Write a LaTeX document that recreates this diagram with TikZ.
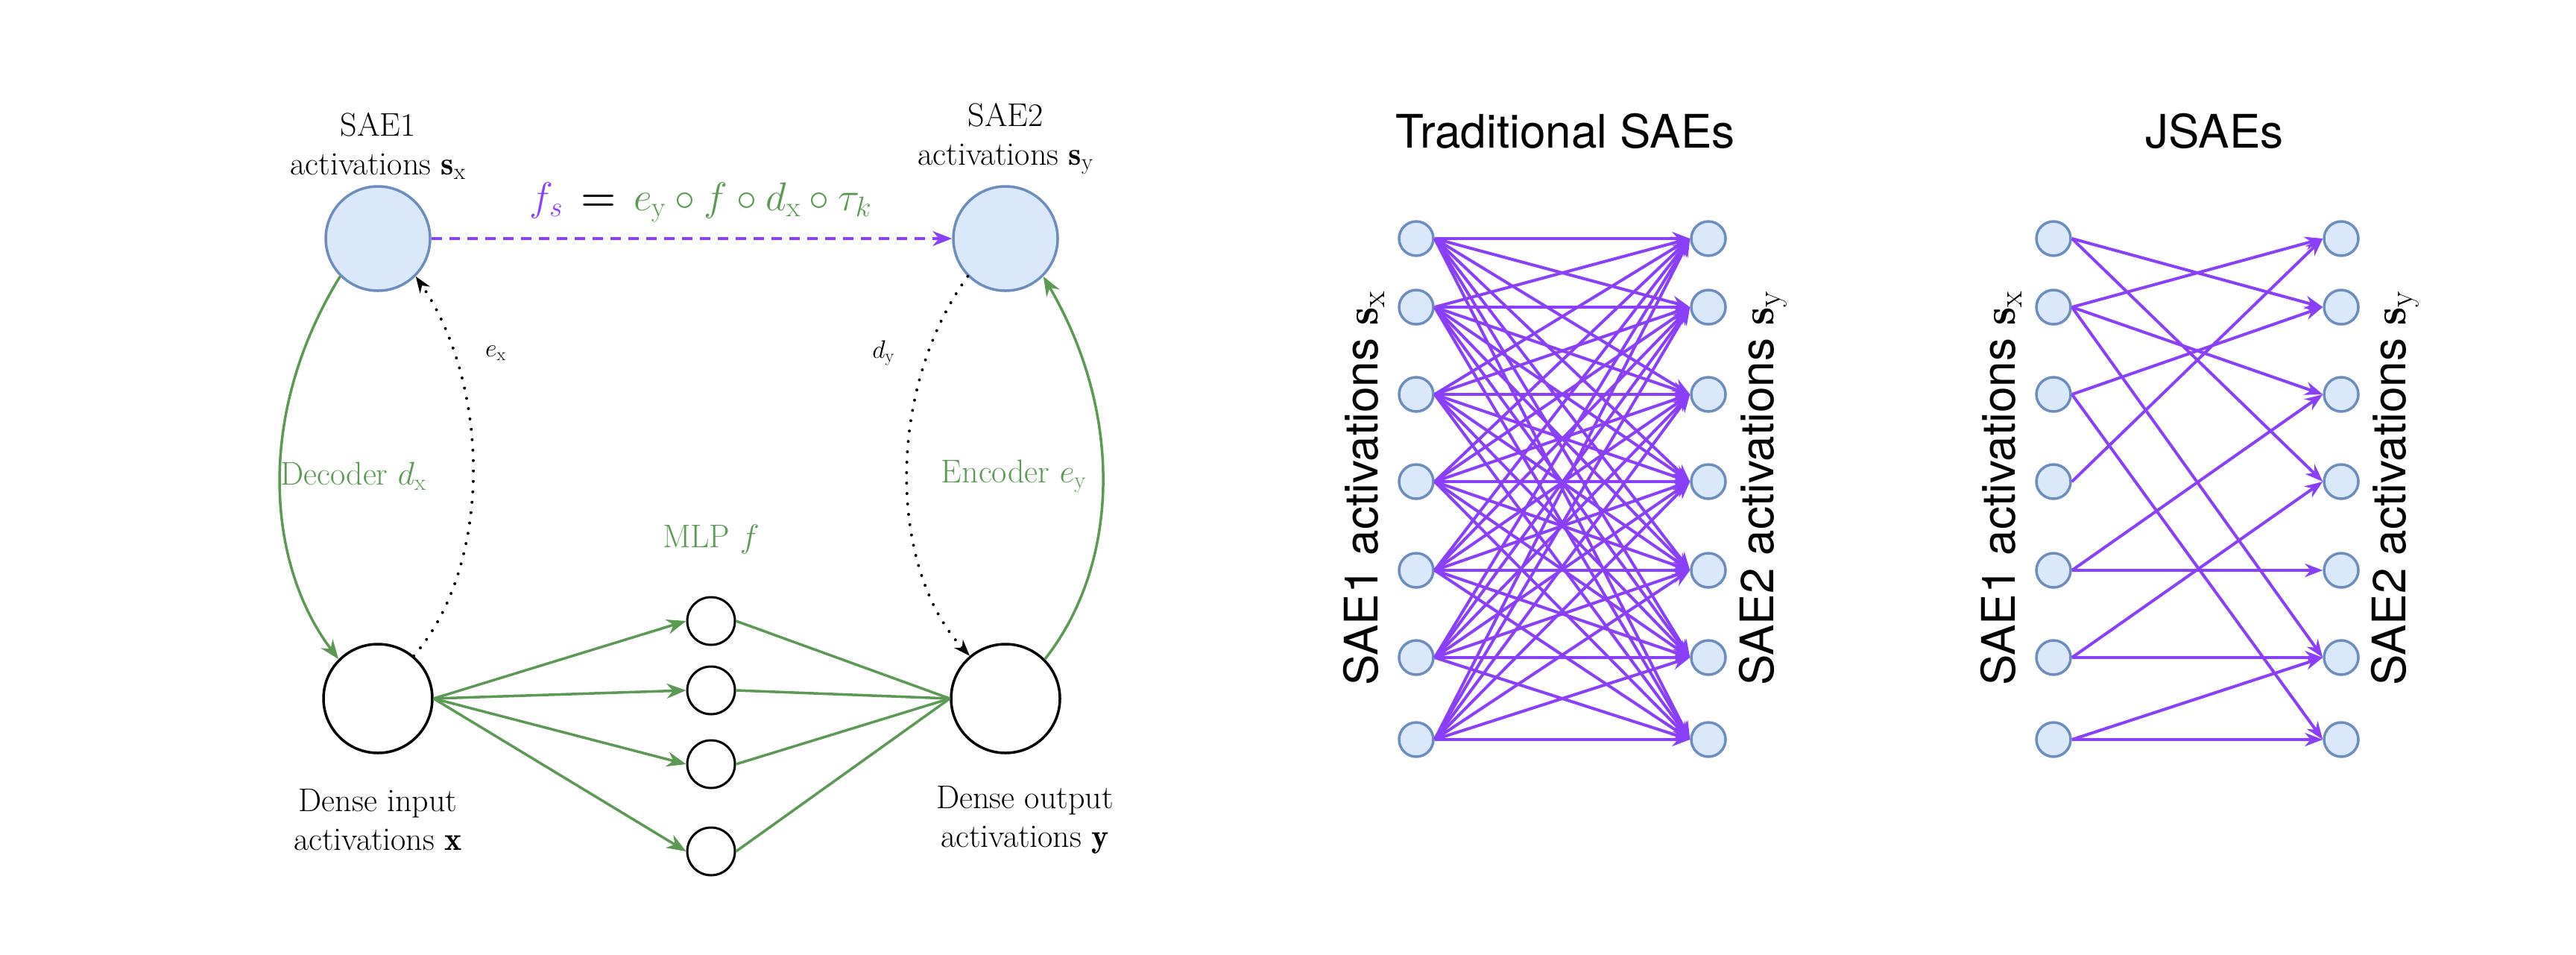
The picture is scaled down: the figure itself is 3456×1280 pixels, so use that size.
\RequirePackage{fix-cm}
\documentclass[tikz,border=0pt]{standalone}
\usepackage{amsmath}
\usepackage{fontspec}
\newfontfamily\sansf{TeX Gyre Heros}
\usetikzlibrary{arrows.meta}
\DeclareMathSizes{44}{44}{31}{22}
\DeclareMathSizes{54}{54}{38}{28}
\DeclareMathSizes{34}{34}{24}{18}
\DeclareMathSizes{62}{62}{44}{32}
\definecolor{sfill}{HTML}{DAE8FC}
\definecolor{sdraw}{HTML}{6C8EBF}
\definecolor{purp}{HTML}{8A3FFC}
\definecolor{grn}{HTML}{5A9A52}
\begin{document}
\begin{tikzpicture}[x=1pt,y=-1pt,
  sae/.style={circle,draw=sdraw,fill=sfill,line width=3.5pt,minimum size=140pt,inner sep=0},
  dense/.style={circle,draw=black,fill=white,line width=3.5pt,minimum size=146pt,inner sep=0},
  mlp/.style={circle,draw=black,fill=white,line width=3pt,minimum size=64pt,inner sep=0},
  small/.style={circle,draw=sdraw,fill=sfill,line width=3.5pt,minimum size=46pt,inner sep=0},
  txt/.style={font=\fontsize{44}{52}\selectfont,align=center},
  sans/.style={font=\sansf\fontsize{62}{70}\selectfont},
  tip/.style={-{Stealth[length=26pt,width=20pt]}},
  garr/.style={grn,line width=3.5pt,tip},
  parr/.style={purp,line width=4pt,-{Stealth[length=24pt,width=18pt]}},
  dots/.style={black,line width=4pt,dash pattern=on 0pt off 14pt,line cap=round,-{Stealth[length=22pt,width=16pt]}}]
\useasboundingbox (0,0) rectangle (3456,1280);
% left diagram
\node[sae] (s1) at (507,320) {};
\node[sae] (s2) at (1349,320) {};
\node[dense] (x) at (507,937) {};
\node[dense] (y) at (1349,937) {};
\foreach \i/\yy in {1/833,2/926,3/1025,4/1142}{\node[mlp] (m\i) at (954,\yy) {};}
\node[txt] (t1) at (507,196) {SAE1\\activations $\mathbf{s}_{\mathrm{x}}$};
\node[txt] (t2) at (1349,186) {SAE2\\activations $\mathbf{s}_{\mathrm{y}}$};
\node[txt] (t3) at (507,1100) {Dense input\\activations $\mathbf{x}$};
\node[txt] (t4) at (1375,1100) {Dense output\\activations $\mathbf{y}$};
\node[txt,text=grn] (dl) at (474,639) {Decoder $d_{\mathrm{x}}$};
\node[txt,text=grn] (el) at (1360,639) {Encoder $e_{\mathrm{y}}$};
\node[txt,text=grn] (ml) at (954,723) {MLP $f$};
\node[font=\fontsize{34}{40}\selectfont] (exl) at (665,474) {$e_{\mathrm{x}}$};
\node[font=\fontsize{34}{40}\selectfont] (dyl) at (1185,474) {$d_{\mathrm{y}}$};
\node[font=\fontsize{54}{60}\selectfont] (fs) at (940,272) {${\color{purp}f_s}\,\boldsymbol{=}\,{\color{grn}e_{\mathrm{y}}\circ f\circ d_{\mathrm{x}}\circ \tau_k}$};
\draw[purp,line width=4pt,dash pattern=on 14pt off 10pt,-{Stealth[length=26pt,width=20pt]}] (s1) -- (s2);
\draw[garr] (s1.225) .. controls (340,560) and (360,760) .. (x.135);
\draw[garr] (y.45) .. controls (1500,760) and (1510,560) .. (s2.315);
\draw[dots] (x.50) .. controls (660,760) and (660,520) .. (s1.315);
\draw[dots] (s2.225) .. controls (1190,520) and (1190,760) .. (y.130);
\foreach \i in {1,...,4}{\draw[garr] (x.east) -- (m\i.west); \draw[grn,line width=3.5pt] (m\i.east) -- (y.west);}
% traditional
\node[sans] (tt) at (2100,176) {Traditional SAEs};
\node[sans] (jt) at (2971,176) {JSAEs};
\foreach \i/\yy in {1/320,2/412,3/529,4/646,5/765,6/882,7/992}{
  \node[small] (a\i) at (1900,\yy) {};
  \node[small] (b\i) at (2292,\yy) {};
  \node[small] (c\i) at (2755,\yy) {};
  \node[small] (d\i) at (3141,\yy) {};}
\foreach \i in {1,...,7}{\foreach \j in {1,...,7}{\draw[parr] (a\i.east) -- (b\j.west);}}
\foreach \i/\j in {1/2,1/4,2/1,2/3,2/6,3/2,3/7,4/1,5/3,5/5,6/4,6/6,7/6,7/7}{\draw[parr] (c\i.east) -- (d\j.west);}
\node[sans,rotate=90] (l1) at (1830,655) {SAE1 activations $\mathbf{s}_{\mathrm{x}}$};
\node[sans,rotate=90] (l2) at (2365,655) {SAE2 activations $\mathbf{s}_{\mathrm{y}}$};
\node[sans,rotate=90] (l3) at (2685,655) {SAE1 activations $\mathbf{s}_{\mathrm{x}}$};
\node[sans,rotate=90] (l4) at (3213,655) {SAE2 activations $\mathbf{s}_{\mathrm{y}}$};
\end{tikzpicture}
\end{document}
